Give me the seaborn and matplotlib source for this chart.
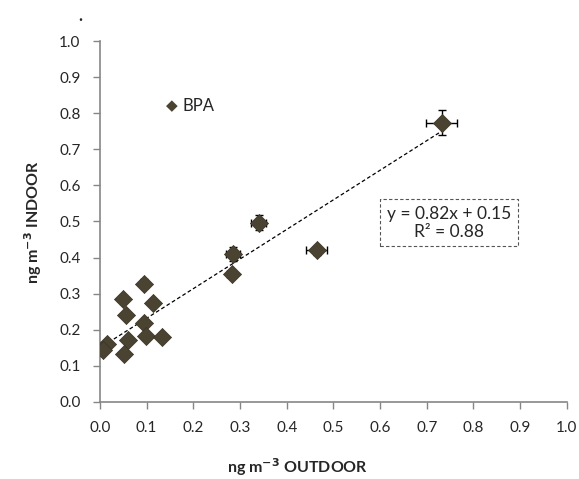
import numpy as np
import pandas as pd
import matplotlib
matplotlib.use("Agg")
import matplotlib.pyplot as plt
import seaborn as sns

# Outdoor vs indoor BPA concentrations (ng m-3)
outdoor = [0.732, 0.464, 0.340, 0.285, 0.282, 0.095, 0.050, 0.114, 0.056,
           0.095, 0.061, 0.099, 0.132, 0.014, 0.007, 0.052]
indoor = [0.774, 0.420, 0.497, 0.410, 0.354, 0.328, 0.286, 0.273, 0.242,
          0.220, 0.173, 0.182, 0.180, 0.160, 0.144, 0.133]
outdoor_err = [0.033, 0.022, 0.016, 0.015, 0.010, 0.008, 0.006, 0.006, 0.005,
               0.005, 0.004, 0.005, 0.006, 0.003, 0.003, 0.004]
indoor_err = [0.035, 0.012, 0.020, 0.020, 0.010, 0.012, 0.008, 0.008, 0.008,
              0.007, 0.006, 0.006, 0.006, 0.005, 0.005, 0.005]

slope, intercept, r2 = 0.82, 0.15, 0.88
ticks = [round(0.1 * i, 1) for i in range(11)]

df = pd.DataFrame({"outdoor": outdoor, "indoor": indoor})

sns.set_style("white")
plt.rcParams["font.family"] = ["Lato", "DejaVu Sans"]

marker_color = "#4b4331"
axis_gray = "#868686"

fig = plt.figure(figsize=(5.79, 4.79), dpi=100)
ax = fig.add_axes([0.1727, 0.1608, 0.8063, 0.7536])

# error bars first, markers on top
ax.errorbar(outdoor, indoor, xerr=outdoor_err, yerr=indoor_err, fmt="none",
            ecolor="black", elinewidth=1, capsize=3, capthick=1, zorder=2)

# linear trend line
xs = np.array([min(outdoor), max(outdoor)])
ax.plot(xs, slope * xs + intercept, color="black", lw=0.9,
        ls=(0, (3, 2)), zorder=1)

sns.scatterplot(data=df, x="outdoor", y="indoor", marker="D", s=85,
                color=marker_color, edgecolor="#3a3325", linewidth=0.5,
                ax=ax, zorder=3)

ax.set_xlim(0, 1.0)
ax.set_ylim(0, 1.0)
ax.set_xticks(ticks)
ax.set_yticks(ticks)
ax.set_xticklabels([f"{t:.1f}" for t in ticks], fontsize=11)
ax.set_yticklabels([f"{t:.1f}" for t in ticks], fontsize=11)
ax.tick_params(axis="both", length=5, width=1, color=axis_gray, pad=9,
               direction="out", bottom=True, left=True)
ax.set_xlabel("")
ax.set_ylabel("")
for side in ["top", "right"]:
    ax.spines[side].set_visible(False)
for side in ["left", "bottom"]:
    ax.spines[side].set_color(axis_gray)
    ax.spines[side].set_linewidth(1.2)

# legend-style label
fig.text(171.7 / 579, 1 - 105.2 / 479, "\u25C6", color=marker_color,
         fontsize=11, ha="center", va="center", family="DejaVu Sans")
fig.text(183 / 579, 1 - 105.7 / 479, "BPA", fontsize=12, ha="left", va="center")

# equation box
ax.text(0.747, 0.497, f"y = {slope}x + {intercept}\nR\u00b2 = {r2}",
        fontsize=12.5, ha="center", va="center", linespacing=1.15,
        bbox=dict(boxstyle="square,pad=0.4", fc="white", ec="#555555",
                  lw=0.8, ls=(0, (3, 2))), zorder=4)

fig.text(298 / 579, 1 - 467 / 479, "ng m$^{\\mathbf{-3}}$ OUTDOOR",
         fontsize=11.5, fontweight="bold", ha="center", va="center")
fig.text(33 / 579, 1 - 222 / 479, "ng m$^{\\mathbf{-3}}$ INDOOR",
         fontsize=11.5, fontweight="bold", ha="center", va="center",
         rotation=90)
fig.text(80 / 579, 1 - 16 / 479, ".", fontsize=12, fontweight="bold",
         ha="center", va="center")

fig.savefig("out.png", dpi=100)
